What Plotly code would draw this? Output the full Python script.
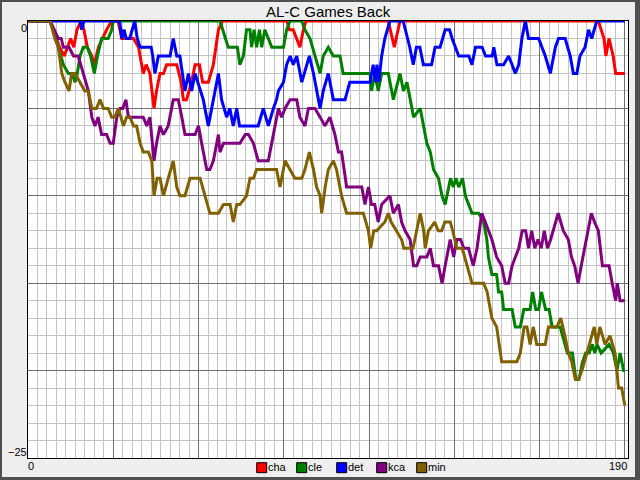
import plotly.graph_objects as go

# ---------------- data (day, games back) ----------------
teams = ["cha", "cle", "det", "kca", "min"]
colors = ["#ff0000", "#008000", "#0000ff", "#800080", "#806000"]

cha = [(0,0),(7,0),(9,-1),(10,-1.5),(11.5,-2),(12.5,-1.5),(13.5,-1),(14.5,-1.5),(15.5,-0.5),(16.8,0),(17.7,-0.5),(18.8,-1.5),(20.2,-2),(21,-2.5),(22.3,-1.5),(23.6,-1),(24.9,-0.5),(26.5,0),(28.5,0),(29.7,-1),(33.4,-1),(35,-1.5),(36.5,-3),(37.4,-2.5),(38.6,-3),(39.9,-5),(40.7,-4),(41.8,-3),(42.9,-3),(43.9,-2.5),(47.1,-2.5),(48.5,-3.5),(49.2,-4.5),(50.2,-4.5),(51.8,-3.5),(52.9,-2.5),(54.3,-2.5),(55.3,-3.5),(57.1,-3.5),(58.7,-2.5),(60.3,-0.5),(61.6,0),(82,0),(82.8,-0.5),(84,-0.5),(86.1,-1.5),(87.2,-0.5),(88,0),(114.1,0),(116,-1.5),(117.8,0),(180.6,0),(182.4,-1),(183,-2),(184,-1),(185.3,-2),(186.1,-3),(189,-3)]

cle = [(0,0),(7,0),(8,-0.5),(9.6,-1.5),(11.2,-2.5),(12.8,-3),(14,-3),(14.9,-3.5),(15.6,-3),(16.5,-2),(17.5,-1.5),(18.8,-1.5),(19.8,-2),(21,-3),(22,-2),(23.3,-1),(24.4,-1),(25.4,-1),(26.5,-0.5),(27,0),(60.8,0),(62.4,-1),(63.4,-1.5),(65.5,-1.5),(66.3,-1.5),(67.1,-2.5),(68.2,-2),(69.2,-0.5),(70.3,-0.5),(70.8,-1.5),(71.6,-0.5),(72.4,-1.5),(73.3,-0.5),(74,-1.5),(75,-0.5),(76.1,-1),(77.2,-1.5),(80.9,-1.5),(81.9,-0.5),(83,0),(86.7,0),(87.7,-0.5),(89.3,-1),(90.9,-2),(92.5,-3),(93.5,-2),(95.1,-1.5),(96.7,-2),(98.8,-2),(99.8,-3),(108.3,-3),(108.8,-4),(109.8,-3),(110.9,-4),(112,-3),(114.1,-3),(115.7,-4.5),(117.8,-3),(118.9,-4),(120,-3.5),(121,-4.5),(122.1,-5.5),(124.2,-5),(125.3,-6),(126.3,-7),(127.4,-7.5),(128.4,-8.5),(130,-9),(131.1,-10),(132.1,-10.5),(133.8,-9),(134.7,-9.5),(135.5,-9),(136.4,-9.5),(137.6,-9),(138.5,-10),(139.5,-10.5),(140.6,-11),(142.7,-11),(144.3,-11.5),(145.3,-12.5),(145.8,-13.5),(146.9,-14.5),(148.4,-14.5),(149,-15.5),(150,-15.5),(150.6,-16.5),(153.3,-16.5),(154.3,-17.5),(155.9,-17.5),(157,-16.5),(159,-16.5),(159.8,-15.5),(160.8,-16.5),(161.7,-16.5),(162.6,-15.5),(163.9,-16.5),(165,-16.5),(166,-17.5),(168.5,-17.5),(170.8,-19),(172.4,-19),(173.5,-20.5),(174.5,-20.5),(175.6,-19.5),(176.6,-19),(177.7,-19),(178.7,-18.5),(179.5,-19),(180.2,-18.5),(181.5,-19),(184,-18.5),(185.4,-19),(186.5,-20),(187.5,-19),(188.6,-20),(189,-20)]

det = [(0,0),(16.5,0),(17,-0.5),(17.7,0),(29,0),(29.7,-1),(30.4,-0.5),(31.1,-1),(32.2,-1),(33,-0.5),(33.8,0),(34.6,-1),(35.5,-1.5),(37.5,-1.5),(39,-1.5),(39.5,-2),(40.2,-3),(41.3,-2),(42.3,-2),(45,-2),(46,-1),(47.1,-2),(48.1,-2),(49.7,-4),(50.8,-3),(51.8,-4),(52.9,-3),(53.8,-3.5),(55.5,-4.5),(57.1,-6),(58.7,-4.5),(60.3,-3),(61.3,-4.5),(62.9,-5.5),(63.9,-5),(65,-6),(66.1,-5),(67,-6),(69.2,-6),(72.9,-6),(74.5,-5),(76.1,-6),(77.7,-5),(78.7,-4.5),(79.3,-4),(80.9,-3.5),(81.9,-2.5),(83,-2),(84,-2.5),(85.1,-2),(86.7,-3.5),(87.5,-3),(89.1,-2),(90.4,-3),(91.4,-4),(92.5,-5),(93.5,-4),(95.1,-3),(96.7,-4.5),(100.4,-4.5),(101.9,-3.5),(108.3,-3.5),(109.3,-2.5),(110,-3.5),(110.5,-2.5),(111.1,-3.5),(112,-2),(113,-1),(114.6,0),(118.8,0),(120.9,-1.5),(122,-2.5),(123,-1.5),(124.1,-1.5),(125.2,-2.5),(127.8,-2.5),(128.9,-1.5),(130.5,-1.5),(132.1,-0.5),(133.5,-0.5),(134.3,-1),(136.4,-2),(139.6,-2),(140.6,-2.5),(141.7,-1.5),(143.8,-1.5),(144.9,-2),(147,-2),(147.5,-1.5),(148.5,-2.5),(150.6,-2.5),(152.2,-2),(153.3,-2.5),(154.3,-3),(155.4,-2.5),(156.4,-1),(157.5,0),(158.5,-1),(161.7,-1),(163.8,-2),(165.4,-3),(167,-1.5),(168,-1),(170.1,-1),(171.7,-2),(172.7,-3),(173.8,-3),(174.8,-2),(176.4,-1.5),(177.5,-0.5),(178.5,-1),(180.1,0),(189,0)]

kca = [(0,0),(7,0),(9.6,-1),(10.5,-1),(11.2,-1.5),(13,-1.5),(14.4,-2),(15.9,-2),(17.5,-3),(19.1,-4),(20.2,-5.5),(21.2,-6),(22.2,-5.5),(23.3,-6.5),(24.9,-6.5),(26,-7),(27,-7),(28.1,-5.5),(29.1,-5),(30,-5),(31,-4.5),(31.8,-5.5),(36.5,-5.5),(37.6,-6),(38.6,-5.5),(39.9,-8),(40.7,-7),(41.8,-6),(42.9,-6.5),(44.4,-6),(46,-4.5),(47.6,-4.5),(48.7,-5.5),(49.7,-6.5),(52.9,-6.5),(54,-6),(55,-7),(56.6,-8.5),(57.6,-8.5),(58.7,-8),(60.3,-6.5),(60.8,-7.5),(61.9,-7),(67.1,-7),(68.8,-6.5),(69.8,-6.5),(71.4,-7),(72.9,-8),(76.1,-8),(77.2,-7),(78.2,-6),(79.3,-5),(80.3,-5.5),(81.4,-5),(83,-4.5),(85.1,-4.5),(86.1,-5.5),(87.7,-6),(88.8,-5),(90.9,-5),(92.5,-5.5),(94,-6),(95.6,-5.5),(97.2,-6.5),(98.3,-7.5),(99.3,-7.5),(100.9,-9.5),(105.7,-9.5),(106.7,-10.5),(107.8,-9.5),(108.8,-10.5),(109.8,-10.5),(110.9,-11.5),(112,-10.5),(114.6,-10),(115.7,-11),(117.3,-10.5),(118.3,-11.5),(119.4,-12),(121,-12.5),(122.1,-14),(123.1,-14),(124.2,-13.5),(126.3,-13.5),(127.4,-13),(128.4,-14),(130,-14),(131.1,-15),(132.1,-14),(133.7,-12.5),(134.8,-13.5),(135.8,-12.5),(137,-12.5),(138,-13),(139.5,-13),(141,-14),(142.2,-13),(143.7,-11),(144.8,-11.5),(145.8,-12),(146.9,-12.5),(148.4,-13.5),(150,-14),(151.1,-15),(152.2,-15),(153.3,-14),(154.3,-13.5),(155.4,-13),(156.5,-12),(157.6,-12),(158.5,-13),(159.5,-12),(160.5,-13),(161.5,-12.5),(162.5,-13),(163.5,-12),(164.5,-13),(165.5,-12.5),(167.9,-11),(169.5,-12),(171.1,-12.5),(172.1,-13.5),(173.1,-14),(174.2,-15),(175.2,-14),(176.8,-12.5),(178.4,-11),(179.4,-11.5),(180.6,-12),(181.9,-14),(184,-14),(185,-15),(186.1,-16),(186.6,-15),(187.5,-16),(189,-16)]

mn = [(0,0),(7,0),(8.5,-1),(9.6,-1.5),(10.7,-3),(11.7,-3.5),(13,-4),(13.8,-3),(14.9,-3),(16.5,-3.5),(18,-4),(19.1,-4),(20.2,-5),(21.7,-5),(22.8,-4.5),(23.9,-5),(25.4,-5),(26.5,-5.5),(27.5,-5.5),(28.6,-5),(29.3,-5.5),(30.2,-6),(31.2,-5.5),(32.3,-5.5),(33.4,-6),(34.4,-6),(35.5,-7),(36.5,-7.5),(38.1,-7.5),(39.2,-8),(39.9,-10),(40.9,-9),(41.8,-9),(42.9,-10),(44.4,-9),(46,-8),(47.1,-9.5),(48.1,-10),(49.7,-10),(51.3,-9),(54.5,-9),(56,-10),(57.6,-11),(60.3,-11),(61.9,-10.5),(64,-10.5),(65,-11.5),(66.1,-10.5),(67.1,-10.5),(69.2,-10),(70.3,-9),(71.4,-9),(72.4,-8.5),(78.7,-8.5),(79.8,-9.5),(81.4,-8),(83,-8.5),(84.5,-9),(86.7,-9),(87.7,-8.5),(89.1,-7.5),(90.4,-8.5),(91.4,-9.5),(92.5,-10),(93,-11),(94.1,-9.5),(95.1,-8.5),(96.7,-8),(97.7,-8.5),(99.3,-10),(100.9,-11),(106.2,-11),(107.8,-12),(108.5,-13),(109.5,-12),(110.4,-12),(113,-11.5),(114.1,-11),(115,-11.5),(116.7,-12),(118.3,-12.5),(119,-13),(121.9,-13),(122.5,-12.5),(124.2,-11),(125.3,-12),(125.8,-13),(126.8,-12),(128.8,-11.5),(129.9,-12),(131,-12),(132,-11.5),(133.7,-11.5),(134.5,-12),(135.8,-13),(137.5,-13),(139,-14),(140.6,-15),(144.3,-15),(145.4,-15.5),(146.9,-17),(148.4,-17.5),(150,-19.5),(154.8,-19.5),(155.9,-19),(157.1,-17.5),(158,-17.5),(159,-18.5),(160,-17.5),(161.1,-18.5),(163.8,-18.5),(164.8,-17.5),(167.5,-17.5),(168.7,-17),(170,-18),(171.1,-19),(172.2,-19.5),(173.3,-20.5),(174.3,-20.5),(175.4,-20),(177,-19),(178.6,-18),(179.3,-17.5),(180.1,-18.5),(181.1,-17.5),(182.7,-18.5),(184.3,-18),(185.9,-19),(187,-21),(188,-21),(189,-22)]

series = [cha, cle, det, kca, mn]
x_range = [0, 190]
y_range = [-25, 0]
x_tick_labels = ["0", "190"]
y_tick_labels = ["0", "\u221225"]
title_text = "AL-C Games Back"

# ---------------- layout geometry ----------------
W, H = 640, 480
L, R, T, B = 28, 12, 21, 22
PW, PH = W - L - R, H - T - B


def px(xp):
    return (xp - L) / PW


def py(yp):
    return (H - B - yp) / PH


FONT = "Liberation Sans, Arial, sans-serif"

fig = go.Figure()
for name, col, pts in zip(teams, colors, series):
    fig.add_trace(go.Scatter(
        x=[p[0] for p in pts], y=[p[1] for p in pts], name=name,
        mode="lines", line=dict(color=col, width=3),
        cliponaxis=False, showlegend=False, hoverinfo="skip"))

shapes = []
# outer window border
for (x0, y0, x1, y1) in [(0, 0, 2, 480), (0, 0, 640, 2), (635, 0, 640, 480), (0, 477, 640, 480)]:
    shapes.append(dict(type="rect", xref="paper", yref="paper",
                       x0=px(x0), x1=px(x1), y0=py(y1), y1=py(y0),
                       fillcolor="#505050", line=dict(width=0), layer="above"))

annotations = []
# legend (squares + labels)
leg_x0 = 256.7
leg_step = 40
for i, (name, col) in enumerate(zip(teams, colors)):
    sx = leg_x0 + i * leg_step
    shapes.append(dict(type="rect", xref="paper", yref="paper",
                       x0=px(sx), x1=px(sx + 10), y0=py(472.7), y1=py(462.7),
                       fillcolor=col, line=dict(color="black", width=1)))
    annotations.append(dict(text=name, xref="paper", yref="paper",
                            x=px(sx + 11.6), y=py(467.2), xanchor="left", yanchor="middle",
                            showarrow=False, borderpad=0, borderwidth=0,
                            font=dict(family=FONT, size=11, color="black")))

# end-point tick labels
annotations += [
    dict(text=y_tick_labels[0], x=px(27.2), y=py(27.9), xanchor="right", yanchor="middle"),
    dict(text=y_tick_labels[1], x=px(27.2), y=py(452.2), xanchor="right", yanchor="middle"),
    dict(text=x_tick_labels[0], x=px(27.8), y=py(465.6), xanchor="left", yanchor="middle"),
    dict(text=x_tick_labels[1], x=px(627.2), y=py(465.6), xanchor="right", yanchor="middle"),
]
for a in annotations[-4:]:
    a.update(xref="paper", yref="paper", showarrow=False, borderpad=0, borderwidth=0,
             font=dict(family=FONT, size=11, color="black"))

annotations.append(dict(text=title_text, xref="paper", yref="paper", x=0.5, y=py(11.7),
                        xanchor="center", yanchor="middle", showarrow=False,
                        borderpad=0, borderwidth=0,
                        font=dict(family=FONT, size=15, color="black")))

fig.update_layout(
    width=W, height=H, margin=dict(l=L, r=R, t=T, b=B, pad=0),
    paper_bgcolor="#eeeeee", plot_bgcolor="white",
    showlegend=False, hovermode=False,
    shapes=shapes, annotations=annotations,
)
fig.update_xaxes(range=x_range, tick0=0, dtick=27, showticklabels=False, ticks="",
                 showgrid=True, gridcolor="#6e6e6e", gridwidth=1, zeroline=False,
                 showline=True, linecolor="black", linewidth=1, mirror=True,
                 layer="below traces",
                 minor=dict(tick0=0, dtick=3, showgrid=True, gridcolor="#c4c4c4", gridwidth=1, ticks=""))
fig.update_yaxes(range=y_range, tick0=0, dtick=5, showticklabels=False, ticks="",
                 showgrid=True, gridcolor="#6e6e6e", gridwidth=1, zeroline=False,
                 showline=True, linecolor="black", linewidth=1, mirror=True,
                 layer="below traces",
                 minor=dict(tick0=0, dtick=1, showgrid=True, gridcolor="#c4c4c4", gridwidth=1, ticks=""))

fig.write_html("out.html", config={"displayModeBar": False},
               post_script="document.body.style.margin='0';document.body.style.overflow='hidden';")
